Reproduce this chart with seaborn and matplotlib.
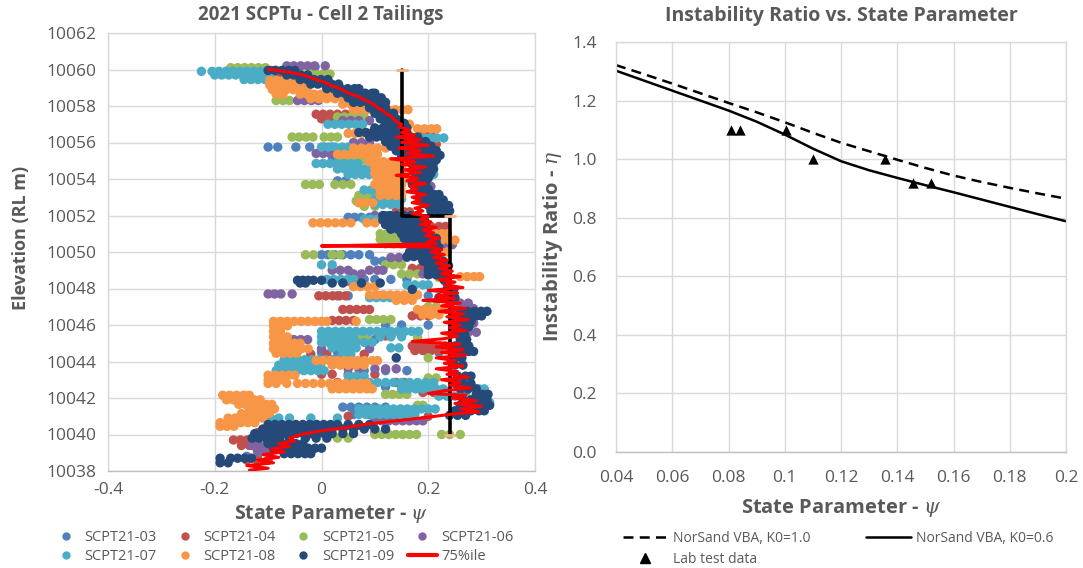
import matplotlib
matplotlib.use("Agg")
import matplotlib.pyplot as plt
import pandas as pd
import seaborn as sns
from matplotlib.lines import Line2D

# ---------------------------------------------------------------------------
# Left panel: SCPTu state parameter profiles, one list of (elevation, [psi...])
# rows per probe
# ---------------------------------------------------------------------------
probes = ["SCPT21-03", "SCPT21-04", "SCPT21-05", "SCPT21-06",
          "SCPT21-07", "SCPT21-08", "SCPT21-09"]
probe_colors = ["#4F81BD", "#C0504D", "#9BBB59", "#8064A2",
                "#4BACC6", "#F79646", "#254A7A"]

rows_03 = [
    (10060.15, [-0.012]),
    (10055.75, [-0.10, -0.082, -0.048, -0.022, 0.005, 0.02]),
    (10055.0, [0.02, 0.035, 0.05, 0.06]),
    (10053.9, [0.03, 0.045]),
    (10051.9, [0.05, 0.062, 0.075, 0.09]),
    (10049.85, [0.0, 0.012, 0.025, 0.04, 0.055, 0.07, 0.09]),
    (10049.5, [0.1, 0.115, 0.13, 0.14]),
    (10048.5, [0.08, 0.1, 0.13, 0.16]),
    (10047.6, [0.03, 0.05, 0.2]),
    (10046.0, [0.12, 0.15, 0.2]),
    (10045.2, [0.02, 0.06, 0.1, 0.18]),
    (10044.5, [0.0, 0.03, 0.2, 0.22]),
    (10043.5, [0.08, 0.12, 0.16]),
    (10042.6, [0.12, 0.16]),
    (10041.5, [0.04, 0.055, 0.07, 0.085, 0.1, 0.12]),
    (10041.1, [0.06, 0.09, 0.14]),
    (10040.3, [-0.05, -0.02]),
    (10039.5, [-0.1, -0.08]),
    (10038.8, [-0.14, -0.12]),
]

rows_04 = [
    (10059.95, [-0.16, -0.147, -0.134, -0.121, -0.108, -0.095, -0.085]),
    (10059.6, [-0.09, -0.077, -0.064]),
    (10057.55, [-0.01, 0.003, 0.016, 0.03, 0.045]),
    (10057.3, [0.0, 0.015]),
    (10056.6, [0.19, 0.205]),
    (10055.9, [0.2, 0.215]),
    (10054.5, [0.1, 0.115]),
    (10052.2, [0.14, 0.155, 0.165]),
    (10051.4, [0.19, 0.205, 0.22, 0.232]),
    (10051.1, [0.2, 0.215, 0.23]),
    (10050.6, [0.14, 0.16]),
    (10049.1, [0.17, 0.185, 0.2, 0.21]),
    (10048.4, [0.05, 0.07]),
    (10047.6, [-0.005, 0.008, 0.021, 0.034, 0.045, 0.11]),
    (10046.85, [0.04, 0.053, 0.066, 0.079, 0.09]),
    (10046.5, [0.17, 0.185, 0.2, 0.25]),
    (10046.25, [0.02, 0.033, 0.046, 0.06]),
    (10045.4, [0.12, 0.13]),
    (10044.85, [0.17, 0.183, 0.196, 0.209, 0.222, 0.232]),
    (10044.6, [0.175, 0.19, 0.205, 0.22]),
    (10044.4, [-0.02, 0.01, 0.08]),
    (10043.3, [0.0, 0.02, 0.05, 0.1]),
    (10042.85, [0.03, 0.055, 0.14, 0.155]),
    (10042.3, [0.19, 0.21]),
    (10041.0, [0.05, 0.2]),
    (10040.1, [-0.12, -0.1, 0.1]),
    (10039.7, [-0.165, -0.152, -0.139, -0.126, -0.08]),
    (10039.4, [-0.15, -0.135]),
    (10039.2, [-0.12, -0.1]),
    (10038.6, [-0.14, -0.12, -0.1]),
]

rows_05 = [
    (10060.1, [-0.17, -0.157, -0.144, -0.131, -0.118, -0.105]),
    (10060.0, [-0.04, -0.02]),
    (10059.75, [-0.01, 0.003, 0.016]),
    (10058.3, [-0.085, -0.072, -0.06]),
    (10057.4, [0.03, 0.043, 0.056, 0.069, 0.08]),
    (10056.3, [-0.055, -0.042, -0.029, -0.016, 0.005, 0.018, 0.03]),
    (10055.6, [0.05, 0.065]),
    (10055.05, [0.04, 0.053, 0.066, 0.078]),
    (10053.7, [-0.03, -0.017, -0.004, 0.025, 0.04, 0.055]),
    (10053.1, [0.07, 0.083, 0.096, 0.105]),
    (10052.8, [0.065, 0.08, 0.095]),
    (10052.5, [0.08, 0.1]),
    (10051.0, [0.11, 0.123, 0.136, 0.149, 0.16]),
    (10050.7, [0.11, 0.123, 0.136, 0.149, 0.162]),
    (10050.45, [0.12, 0.135, 0.15]),
    (10049.85, [-0.03, -0.015, 0.02, 0.035]),
    (10049.3, [0.12, 0.135, 0.15]),
    (10048.8, [0.15, 0.165, 0.18]),
    (10048.6, [0.22, 0.235]),
    (10047.0, [0.2, 0.215]),
    (10046.3, [0.09, 0.103, 0.116, 0.13]),
    (10045.3, [0.07, 0.085, 0.18]),
    (10044.2, [0.2, 0.26]),
    (10043.1, [0.2, 0.215]),
    (10042.2, [0.12, 0.133, 0.146, 0.16, 0.27]),
    (10041.6, [0.18, 0.19]),
    (10040.0, [0.1, 0.113, 0.126, 0.139, 0.152, 0.165, 0.178, 0.225, 0.24, 0.26]),
    (10039.8, [0.03, 0.05]),
]

rows_06 = [
    (10060.2, [-0.065, -0.052, -0.039, -0.026, -0.013, 0.007]),
    (10058.3, [-0.045, -0.032, -0.019, -0.006]),
    (10057.2, [0.04, 0.055, 0.07, 0.09]),
    (10056.0, [0.06, 0.075, 0.09]),
    (10055.4, [-0.01, 0.003, 0.016, 0.029, 0.04, 0.2, 0.215]),
    (10054.6, [0.05, 0.07]),
    (10053.6, [0.19, 0.205]),
    (10052.0, [0.1, 0.12]),
    (10050.4, [0.22, 0.235, 0.245]),
    (10049.7, [0.13, 0.145, 0.16]),
    (10049.0, [0.02, 0.035, 0.05, 0.09, 0.105, 0.115]),
    (10048.8, [0.06, 0.075, 0.19, 0.205]),
    (10047.7, [-0.1, -0.088, -0.076, -0.055]),
    (10047.2, [0.26, 0.275]),
    (10046.9, [0.27, 0.285]),
    (10046.1, [0.27, 0.285]),
    (10045.6, [0.275, 0.29]),
    (10045.2, [-0.065, -0.052, -0.039, -0.026, 0.02, 0.04]),
    (10044.7, [0.0, 0.05, 0.09]),
    (10043.6, [0.05, 0.07, 0.1, 0.12, 0.14]),
    (10042.4, [0.23, 0.27]),
    (10041.5, [0.27, 0.29]),
    (10040.75, [0.1, 0.113, 0.126, 0.139, 0.152, 0.165, 0.178, 0.19]),
    (10040.5, [0.03, 0.05, 0.07]),
    (10039.4, [-0.13, -0.117, -0.104, -0.091, -0.078, -0.065, -0.05]),
    (10039.1, [-0.12, -0.105]),
]

rows_07 = [
    (10059.9, [-0.225, -0.205, -0.192, -0.179, -0.166, -0.153, -0.14, -0.127,
               -0.114, -0.103]),
    (10059.7, [-0.2, -0.187, -0.174, -0.161, -0.148, -0.135, -0.122, -0.109,
               -0.096]),
    (10059.45, [-0.145, -0.132, -0.119, -0.106, -0.093]),
    (10057.0, [0.012, 0.025, 0.038, 0.051, 0.064, 0.077]),
    (10056.25, [0.19, 0.203, 0.216, 0.229]),
    (10055.75, [0.0, 0.013, 0.026, 0.039, 0.05]),
    (10055.1, [0.2, 0.215]),
    (10054.85, [-0.01, 0.003, 0.016, 0.029, 0.042, 0.055, 0.068]),
    (10054.55, [0.03, 0.043, 0.056, 0.069, 0.082, 0.095, 0.105, 0.2]),
    (10054.25, [0.05, 0.063, 0.076, 0.089, 0.1, 0.2, 0.21]),
    (10053.4, [0.08, 0.093, 0.106, 0.12]),
    (10052.9, [0.1, 0.113, 0.126, 0.139, 0.15]),
    (10052.6, [0.1, 0.115, 0.13, 0.145]),
    (10051.8, [0.08, 0.093, 0.106, 0.119, 0.13]),
    (10049.3, [0.0, 0.02, 0.2]),
    (10048.5, [0.01, 0.023, 0.036, 0.049, 0.06]),
    (10048.2, [0.16, 0.175, 0.19, 0.2]),
    (10047.5, [0.09, 0.103, 0.116, 0.129, 0.142, 0.155]),
    (10045.65, [0.0, 0.013, 0.026, 0.039, 0.052, 0.065, 0.078, 0.091, 0.104,
                0.117, 0.13, 0.143, 0.156, 0.169, 0.182]),
    (10045.35, [0.0, 0.015, 0.03, 0.045, 0.06, 0.11, 0.13, 0.15]),
    (10045.05, [0.0, 0.013, 0.026, 0.039, 0.052, 0.065, 0.08, 0.095]),
    (10044.75, [0.02, 0.035, 0.05, 0.065, 0.13, 0.145]),
    (10044.4, [-0.07, -0.055, 0.04, 0.055]),
    (10044.1, [-0.07, -0.057, -0.044, -0.031, -0.018, -0.005, 0.008, 0.021,
               0.034]),
    (10043.8, [-0.08, -0.067, -0.054, -0.041, -0.028, -0.015, -0.002]),
    (10043.5, [-0.085, -0.072, -0.059, -0.046, -0.033, -0.02, -0.007, 0.005]),
    (10043.2, [0.05, 0.065, 0.08]),
    (10042.85, [0.09, 0.105, 0.12, 0.135, 0.15, 0.165, 0.18, 0.195, 0.21]),
    (10042.5, [0.15, 0.163, 0.176, 0.189, 0.202, 0.215, 0.228, 0.295, 0.305]),
    (10042.1, [0.22, 0.235, 0.25, 0.3, 0.31]),
    (10041.75, [0.29, 0.305, 0.315]),
    (10041.4, [0.07, 0.083, 0.096, 0.109, 0.122, 0.135, 0.148, 0.161, 0.174,
               0.187, 0.2, 0.213]),
    (10041.1, [0.07, 0.083, 0.096, 0.109, 0.122, 0.135, 0.148, 0.161, 0.175]),
    (10040.9, [-0.095, -0.08, -0.06, -0.02, 0.03]),
]

rows_08 = [
    (10059.4, [-0.097, -0.084, -0.071, -0.058, -0.047]),
    (10059.15, [-0.097, -0.084, -0.071, -0.058, -0.045, -0.035]),
    (10058.9, [-0.092, -0.079, -0.066, -0.053, -0.04, -0.027]),
    (10058.65, [-0.085, -0.072, -0.04, -0.027, -0.014, -0.001, 0.012, 0.025,
                0.038, 0.05]),
    (10058.4, [-0.02, -0.005, 0.01, 0.025, 0.04, 0.055, 0.065]),
    (10058.1, [0.04, 0.055, 0.07]),
    (10057.8, [0.06, 0.073, 0.086, 0.099, 0.112, 0.125, 0.138, 0.151, 0.162]),
    (10057.0, [0.15, 0.165]),
    (10056.75, [0.18, 0.193, 0.206, 0.216]),
    (10056.5, [0.05, 0.063, 0.076, 0.089, 0.102, 0.112]),
    (10055.7, [0.06, 0.075, 0.09, 0.105, 0.12]),
    (10055.35, [0.03, 0.043, 0.056, 0.069, 0.082, 0.095, 0.105]),
    (10054.95, [0.09, 0.103, 0.116, 0.13, 0.14]),
    (10054.6, [0.1, 0.113, 0.126, 0.139, 0.15]),
    (10054.3, [0.1, 0.113, 0.126, 0.139, 0.15]),
    (10054.0, [0.105, 0.118, 0.131, 0.144, 0.155]),
    (10053.7, [0.1, 0.113, 0.126, 0.139, 0.15]),
    (10053.4, [0.11, 0.123, 0.136, 0.149]),
    (10053.1, [0.11, 0.125, 0.14, 0.15]),
    (10052.7, [0.07, 0.083, 0.096]),
    (10052.0, [0.15, 0.165]),
    (10051.6, [-0.016, -0.002, 0.012, 0.026, 0.04, 0.055, 0.085, 0.1]),
    (10051.0, [0.2, 0.213, 0.226, 0.236]),
    (10050.65, [0.225, 0.24, 0.25]),
    (10050.0, [0.22, 0.235]),
    (10048.65, [0.26, 0.273, 0.286, 0.296]),
    (10048.1, [0.06, 0.073, 0.086, 0.1]),
    (10047.65, [0.09, 0.103, 0.116, 0.129, 0.142, 0.155, 0.168, 0.18]),
    (10047.35, [0.14, 0.155, 0.17]),
    (10046.85, [0.18, 0.193, 0.206, 0.219, 0.232, 0.24]),
    (10046.55, [0.19, 0.205, 0.22]),
    (10046.2, [-0.09, -0.077, -0.064, -0.051, -0.038, -0.025, -0.012, 0.0,
               0.01, 0.065]),
    (10045.95, [-0.09, -0.077, -0.064]),
    (10045.65, [-0.09, -0.077]),
    (10045.35, [-0.09, -0.077, -0.064]),
    (10045.0, [-0.09, -0.077, -0.064, -0.051, -0.04]),
    (10044.7, [-0.09, -0.077, -0.064, -0.051, -0.038, -0.025]),
    (10044.45, [-0.085, -0.072, -0.059, -0.046]),
    (10044.05, [-0.01, 0.003, 0.016, 0.029, 0.042, 0.055, 0.068, 0.081, 0.095,
                0.105]),
    (10043.8, [0.02, 0.035, 0.05, 0.065, 0.08]),
    (10043.25, [-0.1, -0.087, -0.074, -0.061, -0.05]),
    (10043.0, [-0.1, -0.087, -0.074]),
    (10042.8, [-0.1, -0.085, -0.065, -0.045, -0.03, -0.015, 0.0, 0.015, 0.03,
               0.045, 0.06, 0.075, 0.085]),
    (10042.5, [0.02, 0.033, 0.046, 0.059, 0.072, 0.085, 0.095]),
    (10042.15, [-0.185, -0.172, -0.159, -0.146, -0.135]),
    (10041.9, [-0.178, -0.165, -0.152, -0.139, -0.126, -0.115]),
    (10041.65, [-0.155, -0.142, -0.129, -0.116, -0.103, -0.093]),
    (10041.4, [-0.135, -0.122, -0.109, -0.096, -0.088]),
    (10041.15, [-0.15, -0.137, -0.124, -0.111, -0.098]),
    (10040.9, [-0.175, -0.162, -0.149, -0.136, -0.123, -0.11]),
    (10040.65, [-0.19, -0.177, -0.164, -0.151, -0.138, -0.125]),
    (10040.45, [-0.19, -0.177, -0.164]),
]

rows_09 = [
    (10059.95, [-0.1, -0.087, -0.074, -0.061, -0.05]),
    (10059.7, [-0.065, -0.052, -0.039, -0.026]),
    (10059.45, [-0.04, -0.027, -0.014, -0.001, 0.012]),
    (10059.2, [-0.02, -0.007, 0.006, 0.019, 0.032]),
    (10058.95, [0.01, 0.023, 0.036, 0.049, 0.062, 0.07]),
    (10058.7, [0.03, 0.043, 0.056, 0.069, 0.082, 0.095, 0.1]),
    (10058.45, [0.05, 0.063, 0.076, 0.089, 0.102, 0.112]),
    (10058.2, [0.06, 0.073, 0.086, 0.099, 0.112, 0.12]),
    (10057.9, [0.09, 0.105, 0.12]),
    (10057.6, [0.1, 0.113, 0.126, 0.135]),
    (10057.3, [0.11, 0.125, 0.14]),
    (10057.05, [0.12, 0.133, 0.146, 0.155]),
    (10056.8, [0.1, 0.115, 0.13, 0.145, 0.16]),
    (10056.55, [0.07, 0.083, 0.096, 0.109, 0.122, 0.135, 0.148, 0.16]),
    (10056.3, [0.09, 0.103, 0.116, 0.129, 0.142, 0.155, 0.168, 0.18]),
    (10056.05, [0.12, 0.133, 0.146, 0.159, 0.172, 0.185, 0.195]),
    (10055.8, [0.13, 0.143, 0.156, 0.169, 0.182, 0.195, 0.205]),
    (10055.55, [0.14, 0.153, 0.166, 0.179, 0.192, 0.205, 0.215]),
    (10055.3, [0.15, 0.163, 0.176, 0.189, 0.202, 0.215, 0.222]),
    (10055.05, [0.165, 0.178, 0.191, 0.204, 0.215]),
    (10054.8, [0.17, 0.183, 0.196, 0.209]),
    (10054.55, [0.175, 0.188, 0.2, 0.21]),
    (10054.3, [0.18, 0.193, 0.205]),
    (10054.05, [0.175, 0.19, 0.2]),
    (10053.75, [0.17, 0.183, 0.195]),
    (10053.45, [0.175, 0.19, 0.2]),
    (10053.15, [0.185, 0.198, 0.211, 0.22]),
    (10052.85, [0.19, 0.203, 0.216, 0.228]),
    (10052.55, [0.2, 0.213, 0.226, 0.238]),
    (10052.25, [0.205, 0.218, 0.23, 0.24]),
    (10052.0, [0.115, 0.128, 0.141, 0.154, 0.167, 0.18]),
    (10051.75, [0.115, 0.128, 0.141, 0.154, 0.167, 0.18, 0.193]),
    (10051.5, [0.12, 0.133, 0.146, 0.159, 0.172, 0.185, 0.195]),
    (10051.25, [0.13, 0.143, 0.156, 0.169, 0.182, 0.19]),
    (10051.0, [0.15, 0.163, 0.176, 0.189, 0.2]),
    (10050.75, [0.155, 0.168, 0.181, 0.194, 0.207, 0.215]),
    (10050.5, [0.165, 0.178, 0.191, 0.204, 0.215]),
    (10050.25, [0.17, 0.183, 0.196, 0.209, 0.22]),
    (10050.0, [0.165, 0.178, 0.191, 0.204, 0.215]),
    (10049.75, [0.16, 0.173, 0.186, 0.199, 0.21]),
    (10049.5, [0.19, 0.203, 0.216, 0.228]),
    (10049.25, [0.2, 0.213, 0.226, 0.238]),
    (10049.0, [0.2, 0.213, 0.225]),
    (10048.75, [0.2, 0.215, 0.23]),
    (10048.45, [-0.045, -0.035, -0.025, -0.015, 0.0, 0.23]),
    (10048.3, [-0.04, -0.03, 0.02, 0.04, 0.075, 0.11]),
    (10047.95, [0.17, 0.235, 0.248]),
    (10047.5, [0.22, 0.235, 0.25]),
    (10046.75, [0.26, 0.273, 0.286, 0.299, 0.31]),
    (10046.5, [0.265, 0.278, 0.29, 0.3]),
    (10046.2, [0.25, 0.265, 0.28]),
    (10045.9, [0.25, 0.263, 0.276]),
    (10045.5, [0.255, 0.268]),
    (10045.2, [0.26, 0.272]),
    (10044.85, [0.25, 0.263, 0.276]),
    (10044.55, [0.25, 0.263, 0.276, 0.285]),
    (10044.2, [0.14, 0.25, 0.263]),
    (10043.8, [0.25, 0.265]),
    (10043.2, [0.255, 0.27, 0.28]),
    (10042.8, [0.25, 0.265, 0.28]),
    (10042.5, [0.26, 0.275, 0.29]),
    (10042.2, [0.29, 0.302, 0.312]),
    (10041.9, [0.265, 0.28, 0.295, 0.31]),
    (10041.6, [0.26, 0.275, 0.29, 0.305, 0.315]),
    (10041.3, [0.25, 0.265, 0.28, 0.295, 0.305]),
    (10041.05, [0.24, 0.255, 0.27]),
    (10040.55, [-0.1, -0.087, -0.074, -0.061, -0.048, -0.035, -0.022, -0.009,
                0.004, 0.017, 0.03, 0.05, 0.07, 0.09]),
    (10040.3, [-0.11, -0.097, -0.084, -0.071, -0.058, -0.045, -0.032, -0.019,
               -0.006, 0.007, 0.02, 0.04, 0.06, 0.08, 0.1, 0.12]),
    (10040.05, [-0.125, -0.112, -0.099, -0.086, -0.073, -0.06, -0.047, -0.034,
                -0.021, -0.008, 0.005, 0.02, 0.04, 0.06]),
    (10039.8, [-0.13, -0.117, -0.104, -0.091, -0.078, -0.06, -0.03, -0.01,
               0.01]),
    (10039.5, [-0.1, -0.087, -0.074, -0.061, -0.048, -0.035]),
    (10039.25, [-0.09, -0.077, -0.064, -0.051, -0.038, -0.025, -0.012, 0.0]),
    (10038.95, [-0.07, -0.057, -0.044, -0.031, -0.02]),
    (10038.7, [-0.19, -0.17, -0.157, -0.144, -0.131]),
    (10038.45, [-0.19, -0.175]),
]

# 75th percentile profile as (elevation, psi), listed top to bottom
p75_profile = [
    (10060.00, -0.100), (10059.90, -0.070), (10059.80, -0.050),
    (10059.70, -0.035), (10059.55, -0.020), (10059.40, -0.005),
    (10059.25, 0.010), (10059.10, 0.020), (10058.95, 0.035),
    (10058.80, 0.045), (10058.65, 0.055), (10058.50, 0.070),
    (10058.35, 0.080), (10058.20, 0.090), (10058.05, 0.100),
    (10057.90, 0.105), (10057.75, 0.115), (10057.60, 0.120),
    (10057.45, 0.130), (10057.30, 0.135), (10057.15, 0.140),
    (10057.00, 0.150), (10056.85, 0.145), (10056.70, 0.165),
    (10056.55, 0.150), (10056.40, 0.175), (10056.30, 0.140),
    (10056.15, 0.185), (10056.00, 0.150), (10055.85, 0.200),
    (10055.70, 0.145), (10055.55, 0.185), (10055.40, 0.160),
    (10055.25, 0.210), (10055.10, 0.130), (10054.95, 0.175),
    (10054.80, 0.150), (10054.65, 0.195), (10054.50, 0.155),
    (10054.35, 0.185), (10054.20, 0.140), (10054.05, 0.180),
    (10053.90, 0.160), (10053.75, 0.195), (10053.60, 0.165),
    (10053.45, 0.180), (10053.30, 0.160), (10053.15, 0.195),
    (10053.00, 0.170), (10052.85, 0.185), (10052.70, 0.170),
    (10052.55, 0.200), (10052.40, 0.175), (10052.25, 0.190),
    (10052.10, 0.170), (10051.95, 0.200), (10051.80, 0.185),
    (10051.65, 0.205), (10051.50, 0.185), (10051.35, 0.215),
    (10051.20, 0.190), (10051.05, 0.210), (10050.90, 0.195),
    (10050.75, 0.220), (10050.60, 0.200), (10050.45, 0.215),
    (10050.33, 0.000), (10050.28, 0.200), (10050.15, 0.225),
    (10050.00, 0.205), (10049.85, 0.230), (10049.70, 0.210),
    (10049.55, 0.235), (10049.40, 0.215), (10049.25, 0.240),
    (10049.10, 0.220), (10048.95, 0.245), (10048.80, 0.225),
    (10048.65, 0.260), (10048.50, 0.220), (10048.35, 0.250),
    (10048.20, 0.230), (10048.05, 0.265), (10047.90, 0.200),
    (10047.75, 0.255), (10047.60, 0.215), (10047.45, 0.250),
    (10047.35, 0.190), (10047.20, 0.260), (10047.05, 0.225),
    (10046.90, 0.270), (10046.75, 0.220), (10046.60, 0.265),
    (10046.45, 0.235), (10046.30, 0.275), (10046.15, 0.230),
    (10046.00, 0.260), (10045.85, 0.240), (10045.70, 0.270),
    (10045.55, 0.225), (10045.40, 0.255), (10045.25, 0.230),
    (10045.10, 0.170), (10044.95, 0.260), (10044.80, 0.215),
    (10044.65, 0.265), (10044.50, 0.225), (10044.35, 0.270),
    (10044.20, 0.215), (10044.05, 0.250), (10043.90, 0.230),
    (10043.75, 0.265), (10043.60, 0.215), (10043.45, 0.255),
    (10043.30, 0.235), (10043.15, 0.275), (10043.00, 0.225),
    (10042.85, 0.260), (10042.70, 0.240), (10042.55, 0.280),
    (10042.40, 0.230), (10042.25, 0.200), (10042.15, 0.270),
    (10042.00, 0.245), (10041.85, 0.290), (10041.70, 0.250),
    (10041.55, 0.300), (10041.40, 0.260), (10041.25, 0.295),
    (10041.10, 0.240), (10040.95, 0.200), (10040.85, 0.170),
    (10040.75, 0.140), (10040.65, 0.110), (10040.55, 0.080),
    (10040.45, 0.060), (10040.35, 0.040), (10040.25, 0.010),
    (10040.15, -0.010), (10040.05, -0.030), (10039.95, -0.045),
    (10039.80, -0.060), (10039.65, -0.050), (10039.50, -0.080),
    (10039.35, -0.060), (10039.20, -0.095), (10039.05, -0.070),
    (10038.90, -0.110), (10038.75, -0.080), (10038.60, -0.120),
    (10038.45, -0.090), (10038.30, -0.140), (10038.15, -0.100),
    (10038.05, -0.135),
]

# design profile (stepped)
step_psi = [0.15, 0.15, 0.24, 0.24]
step_elev = [10060, 10052, 10052, 10040]
cap_psi = [0.15, 0.24, 0.24]
cap_elev = [10060, 10052, 10040]

left_xticks = [-0.4, -0.2, 0.0, 0.2, 0.4]
left_xticklabels = ["-0.4", "-0.2", "0", "0.2", "0.4"]
left_yticks = [10038, 10040, 10042, 10044, 10046, 10048, 10050,
               10052, 10054, 10056, 10058, 10060, 10062]

# ---------------------------------------------------------------------------
# Right panel: instability ratio vs state parameter
# ---------------------------------------------------------------------------
curve_psi = [0.04, 0.05, 0.06, 0.07, 0.08, 0.09, 0.10, 0.11, 0.12,
             0.13, 0.14, 0.15, 0.16, 0.17, 0.18, 0.19, 0.20]
eta_k0_10 = [1.321, 1.290, 1.258, 1.225, 1.192, 1.160, 1.126, 1.090, 1.056,
             1.027, 0.998, 0.970, 0.944, 0.922, 0.902, 0.883, 0.865]
eta_k0_06 = [1.302, 1.268, 1.234, 1.200, 1.166, 1.128, 1.084, 1.036, 0.993,
             0.962, 0.936, 0.911, 0.887, 0.862, 0.837, 0.812, 0.788]
lab_psi = [0.081, 0.084, 0.1005, 0.110, 0.1355, 0.1455, 0.152]
lab_eta = [1.10, 1.10, 1.10, 1.00, 1.00, 0.92, 0.92]

right_xticks = [0.04, 0.06, 0.08, 0.10, 0.12, 0.14, 0.16, 0.18, 0.20]
right_xticklabels = ["0.04", "0.06", "0.08", "0.1", "0.12", "0.14", "0.16",
                     "0.18", "0.2"]
right_yticks = [0.0, 0.2, 0.4, 0.6, 0.8, 1.0, 1.2, 1.4]
right_yticklabels = ["0.0", "0.2", "0.4", "0.6", "0.8", "1.0", "1.2", "1.4"]

# ---------------------------------------------------------------------------
sns.set_theme(style="white")
plt.rcParams["font.family"] = ["Open Sans", "DejaVu Sans"]
plt.rcParams["mathtext.fontset"] = "dejavuserif"

TEXT = "#595959"
GRID = "#D9D9D9"

records = []
for name, rows in zip(probes, [rows_03, rows_04, rows_05, rows_06,
                               rows_07, rows_08, rows_09]):
    for elev, psis in rows:
        for p in psis:
            records.append((name, p, elev))
cpt = pd.DataFrame(records, columns=["probe", "psi", "elev"])
palette = dict(zip(probes, probe_colors))
p75 = pd.DataFrame(p75_profile, columns=["elev", "psi"])

fig = plt.figure(figsize=(10.83, 5.68), dpi=100)
W, H = 1083, 568
axL = fig.add_axes([108 / W, 1 - 471 / H, 427 / W, 438 / H])
axR = fig.add_axes([616 / W, 1 - 452 / H, 450 / W, 410 / H])


def style_axes(ax, size):
    ax.grid(True, color=GRID, lw=1.0)
    ax.set_axisbelow(True)
    for sp in ax.spines.values():
        sp.set_color(GRID)
        sp.set_linewidth(1.0)
    ax.spines["bottom"].set_color("#BFBFBF")
    ax.tick_params(length=0, labelsize=size, labelcolor=TEXT)


# ---- left panel
sns.scatterplot(data=cpt, x="psi", y="elev", hue="probe", hue_order=probes,
                palette=palette, s=46, linewidth=0, legend=False, ax=axL,
                zorder=2)
sns.lineplot(x=step_psi, y=step_elev, sort=False, estimator=None,
             color="black", lw=2.6, ax=axL, zorder=3)
sns.scatterplot(x=cap_psi, y=cap_elev, marker="_", s=70, color="#F4B183",
                linewidth=2, ax=axL, zorder=3)
sns.lineplot(data=p75, x="psi", y="elev", sort=False, estimator=None,
             color="#FF0000", lw=2.2, ax=axL, zorder=4)

axL.set_xlim(-0.4, 0.4)
axL.set_ylim(10038, 10062)
axL.set_xticks(left_xticks)
axL.set_xticklabels(left_xticklabels)
axL.set_yticks(left_yticks)
axL.set_yticklabels([str(v) for v in left_yticks])
style_axes(axL, 12.5)
axL.tick_params(axis="x", pad=8)
axL.tick_params(axis="y", pad=8)
axL.set_xlabel(r"State Parameter - $\psi$", fontsize=14, fontweight="bold",
               color=TEXT)
axL.xaxis.set_label_coords(0.522, -0.072)
axL.set_ylabel("Elevation (RL m)", fontsize=13, fontweight="bold",
               color=TEXT)
axL.yaxis.set_label_coords(-0.183, 0.532)
fig.text(321 / W, 1 - 15 / H, "2021 SCPTu - Cell 2 Tailings", ha="center",
         va="center", fontsize=13.5, fontweight="bold", color=TEXT)

left_handles = []
for name in ["SCPT21-03", "SCPT21-07", "SCPT21-04", "SCPT21-08",
             "SCPT21-05", "SCPT21-09", "SCPT21-06"]:
    left_handles.append(Line2D([], [], ls="none", marker="o", markersize=6,
                               markerfacecolor=palette[name],
                               markeredgecolor="none", label=name))
left_handles.append(Line2D([], [], color="#FF0000", lw=3, label="75%ile"))
fig.legend(handles=left_handles, loc="upper left",
           bbox_to_anchor=(51 / W, 1 - 530 / H), ncol=4, frameon=False,
           fontsize=10.5, labelcolor=TEXT, handlelength=2.0,
           handletextpad=0.3, columnspacing=0.9, labelspacing=0.3,
           borderpad=0, borderaxespad=0)

# ---- right panel
sns.lineplot(x=curve_psi, y=eta_k0_10, color="black", lw=1.8, ax=axR)
axR.lines[-1].set_linestyle((0, (4, 2.5)))
sns.lineplot(x=curve_psi, y=eta_k0_06, color="black", lw=1.8, ax=axR)
sns.scatterplot(x=lab_psi, y=lab_eta, marker="^", s=55, color="black",
                linewidth=0, ax=axR, zorder=3)

axR.set_xlim(0.04, 0.2)
axR.set_ylim(0.0, 1.4)
axR.set_xticks(right_xticks)
axR.set_xticklabels(right_xticklabels)
axR.set_yticks(right_yticks)
axR.set_yticklabels(right_yticklabels)
style_axes(axR, 12.5)
axR.tick_params(axis="x", pad=13)
axR.tick_params(axis="y", pad=14)
axR.set_xlabel(r"State Parameter - $\psi$", fontsize=14.5, fontweight="bold",
               color=TEXT)
axR.xaxis.set_label_coords(0.5, -0.11)
axR.set_ylabel(r"Instability Ratio - $\eta$", fontsize=14.5,
               fontweight="bold", color=TEXT)
axR.yaxis.set_label_coords(-0.113, 0.5)
fig.text(841 / W, 1 - 16 / H, "Instability Ratio vs. State Parameter",
         ha="center", va="center", fontsize=14, fontweight="bold", color=TEXT)

right_handles = [
    Line2D([], [], color="black", lw=1.8, ls=(0, (4, 2.5)),
           label="NorSand VBA, K0=1.0"),
    Line2D([], [], ls="none", marker="^", markersize=7, color="black",
           label="Lab test data"),
    Line2D([], [], color="black", lw=1.8, label="NorSand VBA, K0=0.6"),
]
fig.legend(handles=right_handles, loc="upper left",
           bbox_to_anchor=(623 / W, 1 - 531 / H), ncol=2, frameon=False,
           fontsize=10, labelcolor=TEXT, handlelength=3.2, handletextpad=0.4,
           columnspacing=4.0, labelspacing=0.4, borderpad=0,
           borderaxespad=0)

fig.savefig("out.png", dpi=100, facecolor="white")
